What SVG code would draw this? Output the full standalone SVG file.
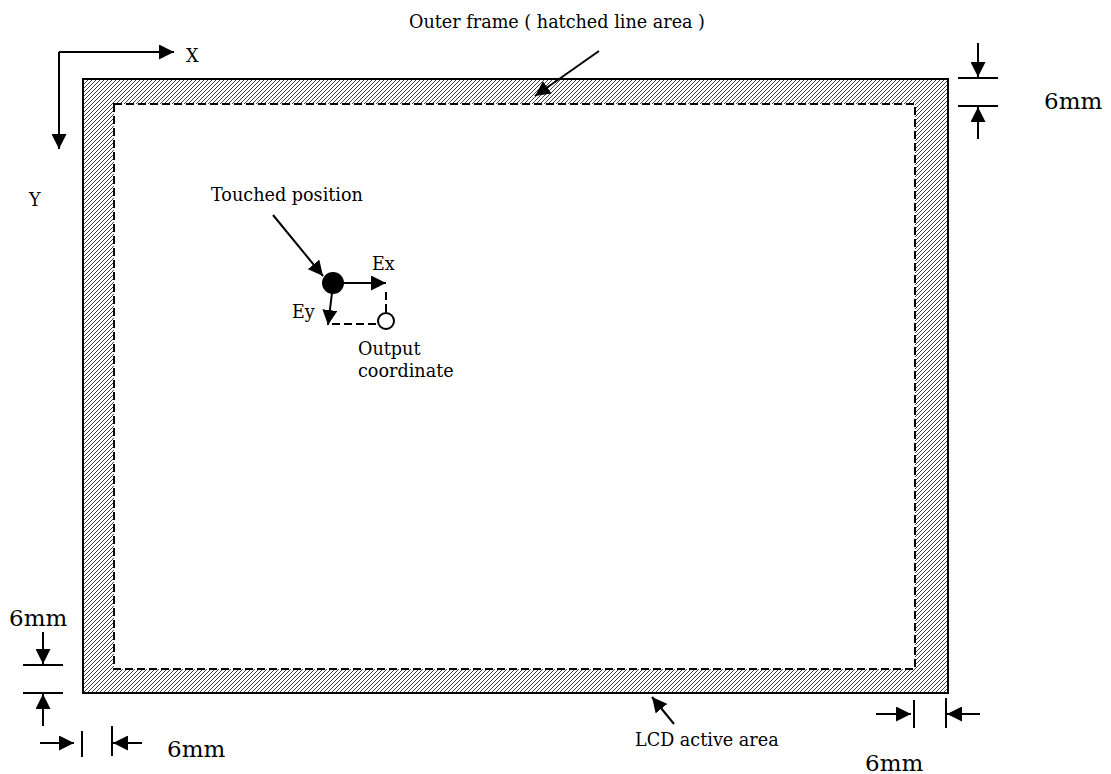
<svg xmlns="http://www.w3.org/2000/svg" width="1111" height="774" viewBox="0 0 1111 774">
<style>
text{font-family:"DejaVu Serif","Liberation Serif",serif;fill:#000}
.lbl{font-size:17.6px}
.dim{font-size:23px}
.ln{stroke:#000;stroke-width:2;fill:none}
.dash{stroke:#000;stroke-width:2;fill:none;stroke-dasharray:8 4}
</style>
<defs>
<pattern id="hatch" patternUnits="userSpaceOnUse" width="4" height="4">
<path d="M-1,1 l2,-2 M0,4 l4,-4 M3,5 l2,-2" stroke="#444" stroke-width="1"/>
</pattern>
<marker id="ah" viewBox="0 0 10 10" refX="10" refY="5" markerWidth="15" markerHeight="15" orient="auto" markerUnits="userSpaceOnUse">
<path d="M0,0 L10,5 L0,10 z" fill="#000"/>
</marker>
</defs>
<rect width="1111" height="774" fill="#fff"/>

<g id="frame">
<path d="M83,79 H948 V693 H83 Z M114,104 V669 H915 V104 Z" fill="url(#hatch)" fill-rule="evenodd"/>
<rect x="83" y="79" width="865" height="614" class="ln"/>
<rect x="114" y="104" width="801" height="565" class="dash"/>
</g>

<g id="axes">
<path d="M59,52 H174" class="ln" marker-end="url(#ah)"/>
<path d="M59,52 V149" class="ln" marker-end="url(#ah)"/>
<text x="186" y="62" class="lbl">X</text>
<text x="29" y="206" class="lbl">Y</text>
</g>

<g id="touched">
<circle cx="333" cy="283" r="11" fill="#000"/>
<text x="211" y="201" class="lbl">Touched position</text>
</g>

<g id="output">
<circle cx="386" cy="321" r="8" fill="#fff" stroke="#000" stroke-width="2"/>
<text x="358" y="355" class="lbl">Output</text>
<text x="358" y="377" class="lbl">coordinate</text>
</g>

<g id="labels">
<text x="409" y="28" class="lbl">Outer frame ( hatched line area )</text>
<text x="635" y="746" class="lbl">LCD active area</text>
<text x="372" y="270" class="lbl">Ex</text>
<text x="292" y="318" class="lbl">Ey</text>
<text x="1044" y="109" class="dim">6mm</text>
<text x="9" y="626" class="dim">6mm</text>
<text x="167" y="757" class="dim">6mm</text>
<text x="865" y="771" class="dim">6mm</text>
</g>

<g id="connectors">
<path d="M599,51 L535,96" class="ln" marker-end="url(#ah)"/>
<path d="M674,724 L652,697" class="ln" marker-end="url(#ah)"/>
<path d="M273,215 L323,276" class="ln" marker-end="url(#ah)"/>
<path d="M344,283 H386" class="ln" marker-end="url(#ah)"/>
<path d="M332,293 L328,325" class="ln" marker-end="url(#ah)"/>
<path d="M386,292 V313" class="dash"/>
<path d="M332,324 H378" class="dash"/>

<path d="M958,78 H998 M958,106 H998" class="ln"/>
<path d="M978,43 V77" class="ln" marker-end="url(#ah)"/>
<path d="M978,139 V107" class="ln" marker-end="url(#ah)"/>

<path d="M23,665 H63 M23,693 H63" class="ln"/>
<path d="M43,632 V664" class="ln" marker-end="url(#ah)"/>
<path d="M43,726 V694" class="ln" marker-end="url(#ah)"/>

<path d="M82,731 V757 M112,726 V756" class="ln"/>
<path d="M40,743 H74" class="ln" marker-end="url(#ah)"/>
<path d="M142,743 H113" class="ln" marker-end="url(#ah)"/>

<path d="M914,700 V728 M946,698 V728" class="ln"/>
<path d="M876,714 H911" class="ln" marker-end="url(#ah)"/>
<path d="M980,714 H947" class="ln" marker-end="url(#ah)"/>
</g>
</svg>
